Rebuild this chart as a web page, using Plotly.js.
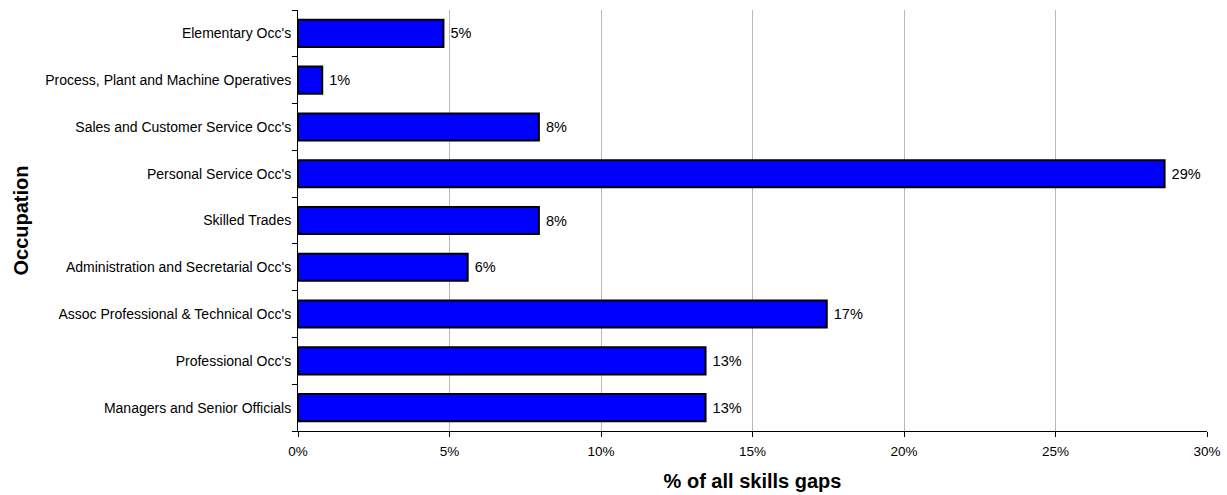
<!DOCTYPE html>
<html>
<head>
<meta charset="utf-8">
<script src="https://cdn.plot.ly/plotly-3.0.1.min.js"></script>
<style>html,body{margin:0;padding:0;background:#fff;}#chart{width:1227px;height:495px;}</style>
</head>
<body>
<div id="chart"></div>
<script>
const categories = [
  "Managers and Senior Officials",
  "Professional Occ's",
  "Assoc Professional & Technical Occ's",
  "Administration and Secretarial Occ's",
  "Skilled Trades",
  "Personal Service Occ's",
  "Sales and Customer Service Occ's",
  "Process, Plant and Machine Operatives",
  "Elementary Occ's"
];
const values = [13.45, 13.45, 17.45, 5.6, 7.95, 28.6, 7.95, 0.8, 4.8];
const xTickValues = [0, 5, 10, 15, 20, 25, 30];
const xTickLabels = ["0%", "5%", "10%", "15%", "20%", "25%", "30%"];

const FONT = 'Liberation Sans, Arial, sans-serif';

const trace = {
  type: 'bar',
  orientation: 'h',
  y: categories,
  x: values,
  marker: {color: '#0000FF', line: {color: '#000000', width: 2}},
  text: values.map(v => '\u00a0' + Math.round(v) + '%'),
  textposition: 'outside',
  textfont: {family: FONT, size: 14.5, color: '#000'},
  cliponaxis: false,
  hoverinfo: 'none'
};

const layout = {
  width: 1227, height: 495,
  margin: {l: 298, r: 20, t: 10, b: 64},
  paper_bgcolor: '#fff', plot_bgcolor: '#fff',
  showlegend: false,
  bargap: 0.42,
  font: {family: FONT, size: 13, color: '#000'},
  xaxis: {
    range: [0, 30],
    tickmode: 'array',
    tickvals: xTickValues,
    ticktext: xTickLabels,
    showgrid: true, gridcolor: '#b8b8b8', gridwidth: 1,
    zeroline: false,
    showline: true, linecolor: '#000', linewidth: 1,
    ticks: 'outside', ticklen: 5, tickcolor: '#000',
    tickfont: {size: 13.5, family: FONT, color: '#000'},
    ticklabelstandoff: 3,
    title: {text: '% of all skills gaps', font: {size: 20, family: FONT, weight: 'bold', color: '#000'}, standoff: 15},
    automargin: false,
    fixedrange: true
  },
  yaxis: {
    type: 'category',
    categoryorder: 'array', categoryarray: categories,
    showline: true, linecolor: '#000', linewidth: 1,
    ticks: 'outside', ticklen: 5, tickcolor: '#000', tickson: 'boundaries',
    showgrid: false, zeroline: false,
    tickfont: {size: 14, family: FONT, color: '#000'},
    ticklabelstandoff: 3,
    title: {text: 'Occupation', font: {size: 20, family: FONT, weight: 'bold', color: '#000'}, standoff: 11},
    automargin: false,
    fixedrange: true
  }
};

Plotly.newPlot('chart', [trace], layout, {displayModeBar: false, staticPlot: true});
</script>
</body>
</html>
